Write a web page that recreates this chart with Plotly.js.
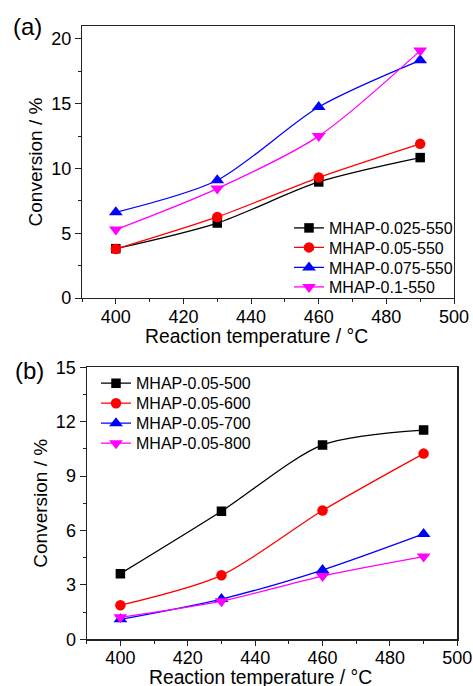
<!DOCTYPE html>
<html>
<head>
<meta charset="utf-8">
<script src="https://cdn.plot.ly/plotly-3.0.1.min.js"></script>
<style>html,body{margin:0;padding:0;background:#fff;}#chart{width:473px;height:686px;}</style>
</head>
<body>
<div id="chart"></div>
<script>
// Data
const temps = [400, 430, 460, 490];

const namesA = ["MHAP-0.025-550", "MHAP-0.05-550", "MHAP-0.075-550", "MHAP-0.1-550"];
const a_025 = [3.81, 5.79, 8.96, 10.84];
const a_05  = [3.78, 6.26, 9.30, 11.90];
const a_075 = [6.62, 9.09, 14.75, 18.35];
const a_1   = [5.28, 8.45, 12.50, 19.10];

const namesB = ["MHAP-0.05-500", "MHAP-0.05-600", "MHAP-0.05-700", "MHAP-0.05-800"];
const b_500 = [3.62, 7.06, 10.72, 11.54];
const b_600 = [1.88, 3.53, 7.10, 10.24];
const b_700 = [1.10, 2.22, 3.82, 5.81];
const b_800 = [1.21, 2.10, 3.49, 4.56];

const xTitle = "Reaction temperature / \u00B0C";
const yTitle = "Conversion / %";

const colors = ["#000000", "#FF0000", "#0000FF", "#FF00FF"];
const symbols = ["square", "circle", "triangle-up", "triangle-down"];
const sizes = [9.5, 10.5, 12, 12];

const FONT = "Arial, 'Liberation Sans', sans-serif";
const W = 473, H = 686;

// legend slot centres (pixels) – layout only
const legYA = [228, 247.5, 267.5, 287];
const legYB = [383.3, 403.3, 423.3, 443.3];
const legXA = 289, legXB = 96;

function mk(x, y, name, i, xa, ya, leg) {
  return {
    x: x, y: y, name: name, type: "scatter", mode: "lines+markers",
    xaxis: xa, yaxis: ya, legend: leg,
    line: {color: colors[i], width: 1.3, shape: "spline", smoothing: 0.8},
    marker: {color: colors[i], symbol: symbols[i], size: sizes[i], line: {width: 0}}
  };
}

const seriesA = [a_025, a_05, a_075, a_1];
const seriesB = [b_500, b_600, b_700, b_800];
const traces = [];
const legNames = ["legend", "legend2", "legend3", "legend4", "legend5", "legend6", "legend7", "legend8"];
seriesA.forEach((s, i) => traces.push(mk(temps, s, namesA[i], i, "x", "y", legNames[i])));
seriesB.forEach((s, i) => traces.push(mk(temps, s, namesB[i], i, "x2", "y2", legNames[4 + i])));

function xax(l, r, anchor) {
  return {
    domain: [l / W, r / W], anchor: anchor, range: [390, 500],
    tickmode: "linear", tick0: 400, dtick: 20,
    ticks: "outside", ticklen: 5, tickwidth: 1, tickcolor: "#222",
    minor: {dtick: 10, tick0: 400, ticks: "outside", ticklen: 3, tickwidth: 1, tickcolor: "#222", showgrid: false},
    showline: true, linecolor: "#222", linewidth: 1.2, mirror: true,
    showgrid: false, zeroline: false, ticklabelstandoff: -3,
    tickfont: {family: FONT, size: 18, color: "#000"}
  };
}
function yax(b, t, anchor, range, dt) {
  return {
    domain: [1 - b / H, 1 - t / H], anchor: anchor, range: range,
    tickmode: "linear", tick0: 0, dtick: dt,
    ticks: "outside", ticklen: 6, tickwidth: 1, tickcolor: "#222",
    minor: {dtick: dt / 2, tick0: 0, ticks: "outside", ticklen: 3, tickwidth: 1, tickcolor: "#222", showgrid: false},
    showline: true, linecolor: "#222", linewidth: 1.2, mirror: true,
    showgrid: false, zeroline: false,
    tickfont: {family: FONT, size: 18, color: "#000"},
    title: {text: yTitle, font: {family: FONT, size: 19, color: "#000"}, standoff: 3}
  };
}

function leg(xpx, ypx) {
  return {
    x: xpx / W, xanchor: "left", y: 1 - ypx / H, yanchor: "middle",
    bgcolor: "rgba(0,0,0,0)", borderwidth: 0, tracegroupgap: 0,
    font: {family: FONT, size: 16, color: "#000"}, itemwidth: 30
  };
}
function txt(t, xpx, ypx, size) {
  return {text: t, xref: "paper", yref: "paper", x: xpx / W, y: 1 - ypx / H,
    xanchor: "center", yanchor: "middle", showarrow: false,
    font: {family: FONT, size: size, color: "#000"}};
}

const layout = {
  width: W, height: H,
  margin: {l: 0, r: 0, t: 0, b: 0},
  paper_bgcolor: "#fff", plot_bgcolor: "#fff",
  font: {family: FONT, color: "#000"},
  xaxis: xax(82, 454, "y"),
  yaxis: yax(298, 26, "x", [0, 21], 5),
  xaxis2: xax(86.7, 457.3, "y2"),
  yaxis2: yax(639.3, 367.3, "x2", [0, 15], 3),
  showlegend: true,
  annotations: [
    txt("(a)", 27, 27, 24),
    txt("(b)", 29, 370, 24),
    txt(xTitle, 256, 337, 19.3),
    txt(xTitle, 260, 677.5, 19.3)
  ]
};
legYA.forEach((y, i) => { layout[legNames[i]] = leg(legXA, y); });
legYB.forEach((y, i) => { layout[legNames[4 + i]] = leg(legXB, y); });

Plotly.newPlot("chart", traces, layout, {staticPlot: true, displayModeBar: false});
</script>
</body>
</html>
